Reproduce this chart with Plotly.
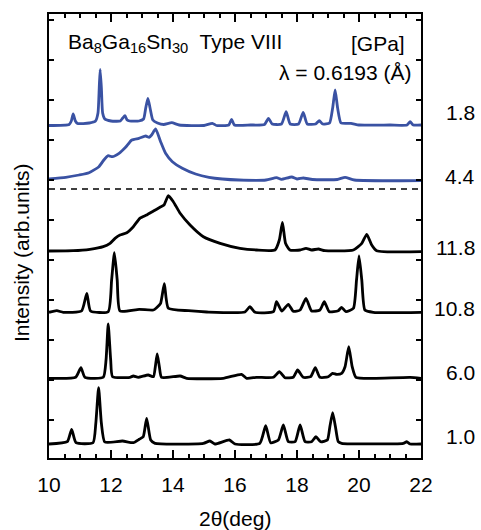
import plotly.graph_objects as go

# ---- data (x = 2theta in deg, y = stacked intensity, arb. units) ----
x_18 = [10.00, 10.65, 10.72, 10.78, 10.85, 10.92, 11.30, 11.50, 11.58, 11.62, 11.65, 11.69, 11.73, 11.80,
        12.00, 12.30, 12.38, 12.45, 12.52, 12.60, 12.90, 13.05, 13.12, 13.19, 13.26, 13.35, 13.50, 13.70,
        13.96, 14.20, 15.00, 15.27, 15.40, 15.80, 15.89, 15.98, 16.50, 16.95, 17.08, 17.20, 17.50, 17.65,
        17.78, 18.05, 18.20, 18.33, 18.60, 18.72, 18.83, 19.05, 19.15, 19.23, 19.31, 19.42, 19.74, 20.00,
        21.00, 21.55, 21.65, 21.75, 22.00]
y_18 = [332.5, 333.5, 337.0, 344.0, 337.0, 334.5, 335.0, 337.0, 345.0, 370.0, 388.7, 370.0, 345.0, 339.0,
        337.0, 337.0, 340.0, 342.3, 338.0, 337.0, 337.0, 339.0, 350.0, 359.7, 350.0, 338.0, 335.0, 333.5,
        335.3, 333.0, 332.5, 334.7, 332.5, 333.0, 338.7, 333.0, 333.0, 333.5, 339.7, 334.0, 334.0, 346.3,
        334.0, 334.0, 345.7, 334.0, 334.0, 337.3, 334.0, 335.0, 350.0, 368.0, 350.0, 335.0, 334.7, 333.0,
        333.0, 333.0, 336.3, 333.0, 333.0]

x_44 = [10.00, 10.54, 10.97, 11.29, 11.61, 11.77, 11.91, 12.04, 12.26, 12.47, 12.67, 12.90, 13.12, 13.23,
        13.31, 13.44, 13.60, 13.76, 13.98, 14.30, 14.73, 15.16, 15.59, 16.13, 17.00, 17.34, 17.50, 17.83,
        18.00, 18.20, 18.50, 19.30, 19.55, 19.85, 22.00]
y_44 = [279.0, 280.7, 283.0, 285.3, 291.3, 298.0, 302.3, 301.3, 304.7, 310.7, 318.0, 319.7, 322.0, 320.7,
        323.0, 329.0, 316.3, 304.7, 296.3, 289.7, 284.0, 280.7, 279.0, 278.0, 278.0, 280.3, 278.7, 281.0,
        279.0, 280.0, 278.5, 278.5, 280.7, 278.0, 277.3]

x_118 = [10.00, 10.78, 11.32, 11.75, 11.97, 12.13, 12.29, 12.51, 12.72, 12.93, 13.15, 13.37, 13.58, 13.71,
         13.85, 14.01, 14.23, 14.55, 14.98, 15.52, 16.16, 16.70, 17.29, 17.43, 17.53, 17.63, 17.77, 18.10,
         18.29, 18.47, 18.69, 18.90, 19.82, 20.09, 20.25, 20.41, 20.57, 22.00]
y_118 = [207.0, 207.3, 208.7, 211.3, 214.7, 219.7, 223.0, 225.3, 231.3, 239.7, 243.0, 247.0, 250.7, 253.0,
         262.3, 256.3, 244.7, 233.0, 221.3, 214.7, 209.7, 208.0, 208.0, 218.0, 235.7, 214.7, 208.0, 208.0,
         209.7, 208.0, 209.0, 207.3, 208.0, 214.7, 223.7, 213.0, 207.3, 206.3]

x_108 = [10.00, 10.25, 10.46, 11.05, 11.22, 11.34, 11.91, 12.02, 12.11, 12.20, 12.29, 12.91, 13.37, 13.47,
         13.60, 13.72, 13.85, 14.50, 15.09, 16.32, 16.48, 16.65, 17.24, 17.34, 17.51, 17.72, 17.88, 18.10,
         18.29, 18.47, 18.74, 18.88, 19.04, 19.33, 19.44, 19.58, 19.82, 19.92, 20.00, 20.09, 20.19, 20.46,
         22.00]
y_108 = [145.7, 147.3, 145.7, 147.0, 164.7, 147.0, 146.3, 178.0, 205.3, 178.0, 147.0, 148.7, 148.0, 150.3,
         154.7, 174.3, 149.7, 147.3, 146.0, 146.0, 151.3, 145.7, 146.3, 156.3, 147.0, 153.7, 146.7, 148.0,
         159.7, 147.0, 148.0, 156.3, 146.3, 147.3, 150.7, 146.3, 149.7, 178.0, 202.0, 178.0, 148.0, 145.7,
         145.7]

x_60 = [10.00, 10.86, 11.03, 11.16, 11.75, 11.84, 11.91, 11.99, 12.05, 12.61, 12.72, 12.88, 13.20, 13.37,
        13.43, 13.49, 13.56, 13.63, 14.23, 14.44, 15.62, 16.21, 16.38, 16.70, 17.24, 17.43, 17.61, 17.88,
        18.02, 18.20, 18.44, 18.59, 18.74, 19.01, 19.15, 19.28, 19.44, 19.55, 19.67, 19.78, 19.90, 20.46,
        21.65, 22.00]
y_60 = [79.7, 80.7, 90.3, 80.7, 80.7, 98.0, 134.0, 98.0, 81.3, 80.7, 82.0, 80.7, 83.0, 81.3,
        91.3, 104.0, 91.3, 80.7, 82.0, 79.7, 79.7, 83.7, 79.7, 80.7, 80.7, 86.3, 80.3, 80.7,
        88.0, 80.7, 81.3, 90.3, 80.7, 81.3, 84.7, 83.7, 84.7, 91.3, 111.3, 91.3, 80.7, 79.7,
        80.7, 79.7]

x_10 = [10.00, 10.59, 10.73, 10.87, 11.42, 11.51, 11.60, 11.69, 11.80, 12.37, 12.72, 12.91, 13.04, 13.15,
        13.28, 13.42, 14.98, 15.19, 15.35, 15.82, 16.00, 16.80, 16.99, 17.15, 17.40, 17.56, 17.72, 17.94,
        18.10, 18.26, 18.47, 18.61, 18.76, 18.98, 19.06, 19.15, 19.24, 19.33, 19.44, 21.43, 21.54, 21.65,
        22.00]
y_10 = [14.0, 16.3, 28.7, 15.3, 15.3, 34.7, 70.3, 34.7, 16.0, 17.0, 15.3, 18.7, 21.3, 39.7,
        18.0, 14.7, 14.7, 17.0, 14.0, 18.0, 14.0, 14.7, 32.3, 15.3, 18.0, 33.0, 16.3, 16.3,
        33.0, 16.3, 16.3, 21.3, 16.3, 18.0, 31.3, 45.3, 31.3, 16.3, 14.7, 14.7, 16.3, 14.0,
        14.0]

pressures = ["1.8", "4.4", "11.8", "10.8", "6.0", "1.0"]
label_y = [346, 282, 211, 150, 86, 22]
divider_y = 269
x_ticks = [10, 12, 14, 16, 18, 20, 22]

BLUE = "#3a52a3"
BLACK = "#000000"
FONT = "Liberation Sans, Arial, sans-serif"

series = [(x_18, y_18, BLUE), (x_44, y_44, BLUE), (x_118, y_118, BLACK),
          (x_108, y_108, BLACK), (x_60, y_60, BLACK), (x_10, y_10, BLACK)]

fig = go.Figure()
for (xs, ys, col), name in zip(series, pressures):
    fig.add_trace(go.Scatter(x=xs, y=ys, mode="lines", name=name,
                             line=dict(color=col, width=2.8, shape="spline", smoothing=0.5),
                             showlegend=False, hoverinfo="skip"))

fig.add_shape(type="line", xref="x", yref="y", x0=10, x1=22, y0=divider_y, y1=divider_y,
              line=dict(color="black", width=1.5, dash="6px,5px"))

for txt, yy in zip(pressures, label_y):
    fig.add_annotation(xref="paper", yref="y", x=1.1505, y=yy, text=txt, showarrow=False,
                       xanchor="right", yanchor="middle", font=dict(size=21, color="black", family=FONT))

fig.add_annotation(xref="paper", yref="paper", x=0.046, y=(458 - 43) / 444,
                   text="Ba<sub>8</sub>Ga<sub>16</sub>Sn<sub>30</sub>  Type VIII",
                   showarrow=False, xanchor="left", yanchor="middle",
                   font=dict(size=21, color="black", family=FONT))
fig.add_annotation(xref="paper", yref="paper", x=(407 - 49) / 372, y=(458 - 43) / 444,
                   text="[GPa]", showarrow=False, xanchor="right", yanchor="middle",
                   font=dict(size=21, color="black", family=FONT))
fig.add_annotation(xref="paper", yref="paper", x=(414 - 49) / 372, y=(458 - 73) / 444,
                   text="λ = 0.6193 (Å)", showarrow=False, xanchor="right", yanchor="middle",
                   font=dict(size=21, color="black", family=FONT))

fig.add_annotation(xref="paper", yref="paper", x=(22 - 49) / 372, y=(458 - 253) / 444,
                   text="Intensity (arb.units)", textangle=-90, showarrow=False,
                   xanchor="center", yanchor="middle",
                   font=dict(size=21, color="black", family=FONT))
fig.add_annotation(xref="paper", yref="paper", x=(235 - 49) / 372, y=(458 - 518) / 444,
                   text="2θ(deg)", showarrow=False, xanchor="center", yanchor="middle",
                   font=dict(size=21, color="black", family=FONT))

fig.update_layout(
    width=481, height=530,
    margin=dict(l=49, r=60, t=14, b=72),
    plot_bgcolor="white", paper_bgcolor="white",
    font=dict(family=FONT, color="black", size=21),
)
fig.update_xaxes(range=[10, 22], tickmode="array", tickvals=x_ticks,
                 ticks="inside", ticklen=8, tickwidth=1.5, tickcolor="black",
                 minor=dict(dtick=0.5, ticks="inside", ticklen=4, tickwidth=1.5, tickcolor="black"),
                 showline=True, linewidth=2, linecolor="black", mirror="allticks",
                 showgrid=False, zeroline=False, ticklabelstandoff=7,
                 tickfont=dict(size=21, color="black", family=FONT))
fig.update_yaxes(range=[0, 444], tick0=38, dtick=40, showticklabels=False,
                 ticks="inside", ticklen=5, tickwidth=1.5, tickcolor="black",
                 showline=True, linewidth=2, linecolor="black", mirror="allticks",
                 showgrid=False, zeroline=False)

fig.write_html("out.html", config={"displayModeBar": False},
               post_script="document.body.style.margin='0';document.body.style.overflow='hidden';")
